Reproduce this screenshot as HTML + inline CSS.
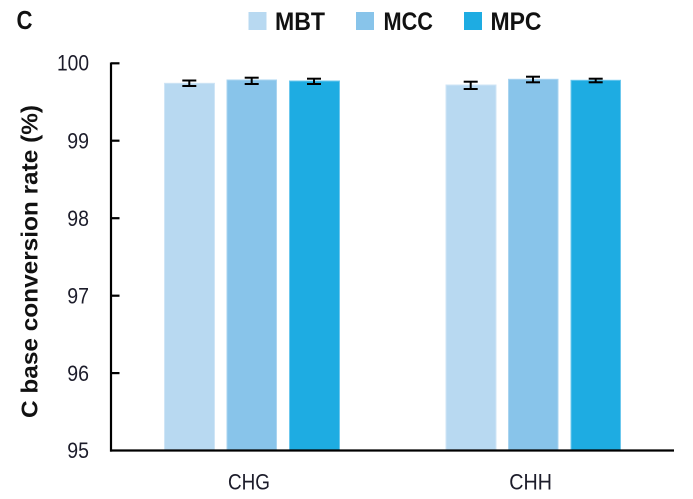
<!DOCTYPE html>
<html>
<head>
<meta charset="utf-8">
<style>
  html, body { margin: 0; padding: 0; background: #ffffff; }
  body { width: 693px; height: 499px; overflow: hidden; }
  svg { display: block; }
  text { font-family: "Liberation Sans", "Noto Sans CJK SC", sans-serif; }
</style>
</head>
<body>
<svg width="693" height="499" viewBox="0 0 693 499" xmlns="http://www.w3.org/2000/svg">
  <rect x="0" y="0" width="693" height="499" fill="#ffffff"/>

  <!-- Panel label -->
  <text x="16.5" y="29" font-size="26" font-weight="bold" fill="#111" textLength="16" lengthAdjust="spacingAndGlyphs">C</text>

  <!-- Legend -->
  <rect x="248.5" y="12" width="18" height="18" fill="#b8d9f1"/>
  <text x="275" y="30" font-size="25" font-weight="bold" fill="#111" textLength="50" lengthAdjust="spacingAndGlyphs">MBT</text>
  <rect x="356" y="12" width="18" height="18" fill="#88c4ea"/>
  <text x="383.5" y="30" font-size="25" font-weight="bold" fill="#111" textLength="49.5" lengthAdjust="spacingAndGlyphs">MCC</text>
  <rect x="464" y="12" width="18" height="18" fill="#1eace2"/>
  <text x="490.5" y="30" font-size="25" font-weight="bold" fill="#111" textLength="51" lengthAdjust="spacingAndGlyphs">MPC</text>

  <!-- Y axis label -->
  <text transform="translate(37.5,261.5) rotate(-90)" text-anchor="middle" font-size="23.5" font-weight="bold" fill="#111" textLength="313" lengthAdjust="spacingAndGlyphs">C base conversion rate (%)</text>

  <!-- Bars group CHG -->
  <rect x="164.5" y="83.3" width="50" height="367" fill="#b8d9f1" stroke="#cfe5f6" stroke-width="1"/>
  <rect x="227" y="80" width="49.5" height="370" fill="#88c4ea" stroke="#a9d4f0" stroke-width="1"/>
  <rect x="289.5" y="81" width="50" height="369" fill="#1eace2" stroke="#6cc8ee" stroke-width="1"/>

  <!-- Bars group CHH -->
  <rect x="446" y="85" width="50" height="365" fill="#b8d9f1" stroke="#cfe5f6" stroke-width="1"/>
  <rect x="508.5" y="79.3" width="49.5" height="370.7" fill="#88c4ea" stroke="#a9d4f0" stroke-width="1"/>
  <rect x="571" y="80.3" width="49.5" height="369.7" fill="#1eace2" stroke="#6cc8ee" stroke-width="1"/>

  <!-- Error bars -->
  <g stroke="#000" stroke-width="2" fill="none">
    <line x1="189.3" y1="80.5" x2="189.3" y2="86"/>
    <line x1="182.3" y1="80.5" x2="196.3" y2="80.5"/>
    <line x1="182.3" y1="86" x2="196.3" y2="86"/>

    <line x1="251.7" y1="77.7" x2="251.7" y2="84"/>
    <line x1="244.7" y1="77.7" x2="258.7" y2="77.7"/>
    <line x1="244.7" y1="84" x2="258.7" y2="84"/>

    <line x1="314" y1="78.7" x2="314" y2="84"/>
    <line x1="307" y1="78.7" x2="321" y2="78.7"/>
    <line x1="307" y1="84" x2="321" y2="84"/>

    <line x1="470.7" y1="81.7" x2="470.7" y2="89"/>
    <line x1="463.7" y1="81.7" x2="477.7" y2="81.7"/>
    <line x1="463.7" y1="89" x2="477.7" y2="89"/>

    <line x1="533" y1="76.7" x2="533" y2="82.3"/>
    <line x1="526" y1="76.7" x2="540" y2="76.7"/>
    <line x1="526" y1="82.3" x2="540" y2="82.3"/>

    <line x1="595.7" y1="78.7" x2="595.7" y2="82.3"/>
    <line x1="588.7" y1="78.7" x2="602.7" y2="78.7"/>
    <line x1="588.7" y1="82.3" x2="602.7" y2="82.3"/>
  </g>

  <!-- Axes -->
  <g stroke="#000" stroke-width="2.2" fill="none">
    <line x1="111" y1="62.5" x2="111" y2="451.6"/>
    <line x1="110" y1="450.5" x2="674" y2="450.5"/>
    <line x1="111" y1="63.3" x2="119.5" y2="63.3"/>
    <line x1="111" y1="140.7" x2="119.5" y2="140.7"/>
    <line x1="111" y1="218.2" x2="119.5" y2="218.2"/>
    <line x1="111" y1="295.7" x2="119.5" y2="295.7"/>
    <line x1="111" y1="373.1" x2="119.5" y2="373.1"/>
  </g>

  <!-- Y tick labels -->
  <g font-size="22" fill="#1c1c2a" text-anchor="end">
    <text x="89" y="70.5" textLength="32" lengthAdjust="spacingAndGlyphs">100</text>
    <text x="89" y="148.3" textLength="21.7" lengthAdjust="spacingAndGlyphs">99</text>
    <text x="89" y="225.8" textLength="21.7" lengthAdjust="spacingAndGlyphs">98</text>
    <text x="89" y="303.3" textLength="21.7" lengthAdjust="spacingAndGlyphs">97</text>
    <text x="89" y="380.8" textLength="21.7" lengthAdjust="spacingAndGlyphs">96</text>
    <text x="89" y="458" textLength="21.7" lengthAdjust="spacingAndGlyphs">95</text>
  </g>

  <!-- X labels -->
  <g font-size="22" fill="#1c1c2a">
    <text x="228" y="489.3" textLength="42" lengthAdjust="spacingAndGlyphs">CHG</text>
    <text x="509.3" y="489.3" textLength="42.7" lengthAdjust="spacingAndGlyphs">CHH</text>
  </g>
</svg>
</body>
</html>
